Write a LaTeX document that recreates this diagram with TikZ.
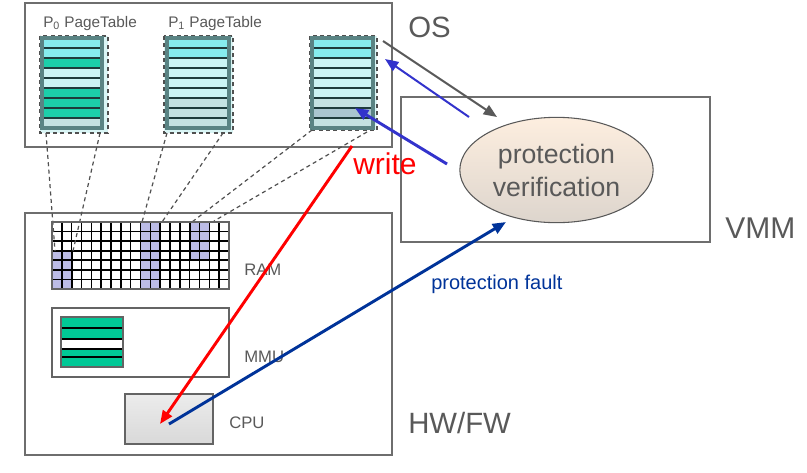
\documentclass[tikz,border=0pt]{standalone}
\usepackage{fontspec}
\setmainfont{Liberation Sans}
\usetikzlibrary{calc}
\usetikzlibrary{arrows.meta}
\usetikzlibrary{shapes.geometric}

\definecolor{txtgray}{HTML}{595959}
\definecolor{linegray}{HTML}{6E6E6E}
\definecolor{unitgray}{HTML}{646464}
\definecolor{dashgray}{HTML}{505050}
\definecolor{glow}{HTML}{D9F5F5}
\definecolor{frame}{HTML}{5A8484}
\definecolor{rowline}{HTML}{1E3C3C}
\definecolor{cyanrow}{HTML}{86ECEE}
\definecolor{tealrow}{HTML}{1CCFAA}
\definecolor{lightrow}{HTML}{CBF4F4}
\definecolor{grayrow}{HTML}{C4E2E2}
\definecolor{bluerow}{HTML}{A9C5CF}
\definecolor{ramblue}{HTML}{BCBCE6}
\definecolor{mmuteal}{HTML}{00C896}
\definecolor{peachtop}{HTML}{FDEEDF}
\definecolor{peachbot}{HTML}{DDD5CD}
\definecolor{faultblue}{HTML}{003399}
\definecolor{arrowblue}{HTML}{3333CC}

\begin{document}
\begin{tikzpicture}[x=0.75pt,y=-0.75pt]
    \tikzset{layer/.style={draw=linegray, line width=1pt},
             unit/.style={draw=unitgray, line width=2.2pt},
             map/.style={dash pattern=on 3pt off 2.5pt, draw=dashgray, line width=0.9pt},
             lbl/.style={text=txtgray, inner sep=0pt, anchor=base west},
             tip/.style={-{Triangle[length=10pt,width=8pt]}}}

    \useasboundingbox (0,0) rectangle (807,472);

    \coordinate (os_start) at (25,3);
    \coordinate (os_end) at (392,147);
    \coordinate (hw_start) at (25,213);
    \coordinate (hw_end) at (392,455);
    \coordinate (vmm_start) at (401,97);
    \coordinate (vmm_end) at (710,242);
    \coordinate (ram_start) at (52,222);
    \coordinate (ram_end) at (229,289);

    %layers
    \draw [layer] (os_start) rectangle (os_end);
    \draw [layer] (hw_start) rectangle (hw_end);
    \draw [layer] (vmm_start) rectangle (vmm_end);

    \node[lbl, font=\fontsize{22}{26}\selectfont] (os_label) at (408,37) {OS};
    \node[lbl, font=\fontsize{22.5}{26}\selectfont] (vmm_label) at (725,238) {VMM};
    \node[lbl, font=\fontsize{22}{26}\selectfont] (hw_label) at (408,433) {HW/FW};

    %page tables
    \node[lbl, font=\fontsize{11.5}{14}\selectfont] (p0_label) at (43,27) {P\textsubscript{0} PageTable};
    \node[lbl, font=\fontsize{11.5}{14}\selectfont] (p1_label) at (168,27) {P\textsubscript{1} PageTable};

    \fill [glow] (40,36) rectangle (108,133);
    \draw [map] (40,36) rectangle (108,133);
    \foreach \c [count=\i from 0] in {cyanrow,cyanrow,tealrow,lightrow,lightrow,tealrow,tealrow,tealrow,grayrow}
        \fill [\c] (42,{38+10*\i}) rectangle (102,{48+10*\i});
    \foreach \i in {1,...,8}
        \draw [rowline, line width=0.9pt] (42,{38+10*\i}) -- (102,{38+10*\i});
    \draw [frame, line width=2.4pt] (42,38) rectangle (102,128);

    \fill [glow] (164,36) rectangle (233,133);
    \draw [map] (164,36) rectangle (233,133);
    \foreach \c [count=\i from 0] in {cyanrow,cyanrow,lightrow,lightrow,lightrow,lightrow,grayrow,grayrow,grayrow}
        \fill [\c] (167,{38+10*\i}) rectangle (229,{48+10*\i});
    \foreach \i in {1,...,8}
        \draw [rowline, line width=0.9pt] (167,{38+10*\i}) -- (229,{38+10*\i});
    \draw [frame, line width=2.4pt] (167,38) rectangle (229,128);

    \fill [glow] (310,36) rectangle (377,130);
    \draw [map] (310,36) rectangle (377,130);
    \foreach \c [count=\i from 0] in {cyanrow,cyanrow,lightrow,lightrow,lightrow,lightrow,grayrow,bluerow,grayrow}
        \fill [\c] (312,{38+10*\i}) rectangle (373,{48+10*\i});
    \foreach \i in {1,...,8}
        \draw [rowline, line width=0.9pt] (312,{38+10*\i}) -- (373,{38+10*\i});
    \draw [frame, line width=2.4pt] (312,38) rectangle (373,128);

    %RAM
    \fill [white] (ram_start) rectangle (ram_end);
    \fill [ramblue] (52,250.7) rectangle (71.7,289);
    \fill [ramblue] (140.5,222) rectangle (160.3,289);
    \fill [ramblue] (189.7,222) rectangle (209.3,260.3);
    \foreach \i in {1,...,17}
        \draw [black, line width=1.2pt] ({52+9.833*\i},222) -- ({52+9.833*\i},289);
    \foreach \i in {1,...,6}
        \draw [black, line width=1.2pt] (52,{222+9.571*\i}) -- (229,{222+9.571*\i});
    \draw [black, line width=1.2pt] (52,250.7) rectangle (71.7,289);
    \draw [black, line width=1.2pt] (189.7,222) rectangle (209.3,260.3);

    \coordinate (p0_bl) at (46,133);
    \coordinate (p0_br) at (100,133);
    \coordinate (p1_bl) at (167,133);
    \coordinate (p1_br) at (223,133);
    \coordinate (p2_bl) at (312,130);
    \coordinate (p2_br) at (367,132);
    \coordinate (blk0_l) at (55,251);
    \coordinate (blk0_r) at (73,251);
    \coordinate (blk1_l) at (142,222);
    \coordinate (blk1_r) at (162,222);
    \coordinate (blk2_l) at (192,222);
    \coordinate (blk2_r) at (214,221);

    \draw [map] (p0_bl) -- (blk0_l);
    \draw [map] (p0_br) -- (blk0_r);
    \draw [map] (p1_bl) -- (blk1_l);
    \draw [map] (p1_br) -- (blk1_r);
    \draw [map] (p2_bl) -- (blk2_l);
    \draw [map] (p2_br) -- (blk2_r);

    \draw [unit] (ram_start) rectangle (ram_end);
    \node[lbl, font=\fontsize{12.5}{15}\selectfont] (ram_label) at (244,275) {RAM};

    %MMU
    \draw [unit] (52,308) rectangle (229,377);
    \foreach \c/\a/\b in {mmuteal/317/328,mmuteal/328/339,white/339/349,mmuteal/349/357,mmuteal/357/367}
        \fill [\c] (61,\a) rectangle (123,\b);
    \foreach \y in {328,339,349,357}
        \draw [black, line width=1.2pt] (61,\y) -- (123,\y);
    \draw [draw=unitgray, line width=2pt] (61,317) rectangle (123,367);
    \node[lbl, font=\fontsize{12.5}{15}\selectfont] (mmu_label) at (244,362) {MMU};

    %CPU
    \draw [unit, top color=gray!15, bottom color=gray!30] (125,394) rectangle (213,444);
    \node[lbl, font=\fontsize{12.5}{15}\selectfont] (cpu_label) at (229,428) {CPU};

    %VMM
    \node[ellipse, draw=txtgray, line width=0.8pt, top color=peachtop, bottom color=peachbot,
          minimum width=145pt, minimum height=79pt, inner sep=0pt, align=center,
          text=txtgray, font=\fontsize{20}{24.75}\selectfont] (verify) at (556.5,170) {protection\\verification};

    %arrows
    \coordinate (p2_out) at (383,41);
    \coordinate (verify_in) at (497,117);
    \coordinate (verify_out) at (469,117);
    \coordinate (p2_in) at (385,59);
    \coordinate (verify_side) at (447,164);
    \coordinate (p2_entry) at (355,108);
    \coordinate (write_start) at (352,146);
    \coordinate (cpu_in) at (160,424);
    \coordinate (cpu_out) at (169,424);
    \coordinate (verify_bottom) at (506,222);

    \draw [tip, draw=txtgray, fill=txtgray, line width=1.5pt] (p2_out) -- (verify_in);
    \draw [tip, draw=arrowblue, fill=arrowblue, line width=1.5pt] (verify_out) -- (p2_in);
    \draw [tip, draw=arrowblue, fill=arrowblue, line width=2.2pt] (verify_side) -- (p2_entry);
    \draw [tip, draw=red, fill=red, line width=2.2pt] (write_start) -- (cpu_in);
    \draw [tip, draw=faultblue, fill=faultblue, line width=2.2pt] (cpu_out) -- (verify_bottom);

    \node[lbl, text=red, font=\fontsize{22.5}{27}\selectfont] (write_label) at (353,174) {write};
    \node[lbl, text=faultblue, font=\fontsize{15}{18}\selectfont] (fault_label) at (431,289) {protection fault};
\end{tikzpicture}
\end{document}
